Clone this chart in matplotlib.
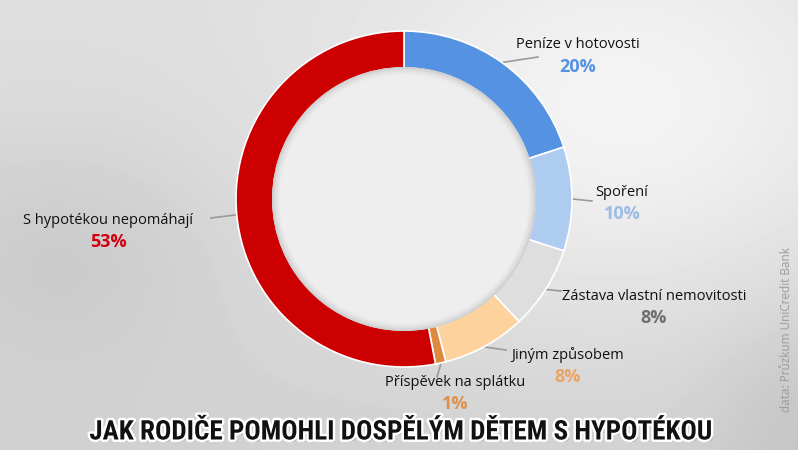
import numpy as np
import matplotlib

matplotlib.use("Agg")
import matplotlib.pyplot as plt
import matplotlib.patheffects as pe
from matplotlib import font_manager

# data
categories = [
    "Peníze v hotovosti",
    "Spoření",
    "Zástava vlastní nemovitosti",
    "Jiným způsobem",
    "Příspěvek na splátku",
    "S hypotékou nepomáhají",
]
shares = [20, 10, 8, 8, 1, 53]
slice_colors = ["#5592e2", "#aecbf0", "#dedede", "#fdd29c", "#dd8a40", "#cc0000"]
value_colors = ["#5592e2", "#9dbbe6", "#6e6e6e", "#eba463", "#e0904a", "#d30010"]
title = "JAK RODIČE POMOHLI DOSPĚLÝM DĚTEM S HYPOTÉKOU"
source = "data: Průzkum UniCredit Bank"

W, H = 798, 450
CX, CY, R = 404, 199, 168
RING = 0.22

# label layout in pixels: (text centre x, text y, leader end x, leader end y)
label_pos = [
    (578, 45, 538, 57),
    (622, 192, 592, 201),
    (654, 296, 561, 291),
    (568, 355, 506, 350),
    (455, 382, 437, 377),
    (108, 220, 211, 218),
]


def narrow_font():
    fonts = font_manager.fontManager.ttflist
    names = {f.name for f in fonts}
    for cand in ["Liberation Sans Narrow", "DejaVu Sans Condensed", "Roboto Condensed", "Open Sans Condensed"]:
        if cand in names:
            return cand, "normal"
    if any(f.name == "DejaVu Sans" and f.stretch == "condensed" for f in fonts):
        return "DejaVu Sans", "condensed"
    return "Roboto", "normal"


fig = plt.figure(figsize=(W / 100, H / 100), dpi=100)
bg = fig.add_axes([0, 0, 1, 1])
bg.set_xlim(0, W)
bg.set_ylim(H, 0)
bg.axis("off")

# blurred grey backdrop
yy, xx = np.mgrid[0:H, 0:W]
img = 0.87 - 0.05 * (yy / H) ** 1.5
img += 0.09 * np.exp(-(((xx - 620) / 260) ** 2 + ((yy - 120) / 200) ** 2))
img -= 0.05 * np.exp(-(((xx - 60) / 160) ** 2 + ((yy - 250) / 120) ** 2))
img -= 0.05 * np.exp(-(((xx - 798) / 90) ** 2 + ((yy - 420) / 120) ** 2))
img = np.clip(img, 0, 1)
bg.imshow(img, cmap="gray", vmin=0, vmax=1, extent=(0, W, H, 0), zorder=0)

pie_ax = fig.add_axes([(CX - R) / W, (H - CY - R) / H, 2 * R / W, 2 * R / H])
wedges, _ = pie_ax.pie(
    shares,
    colors=slice_colors,
    startangle=90,
    counterclock=False,
    radius=1.0,
    wedgeprops=dict(width=RING, edgecolor="white", linewidth=1.2),
)
# hole with a soft grey rim (covers the inner white edge)
r_in = 1 - RING
steps = 10
for k in range(steps):
    g = 0.80 + (0.935 - 0.80) * (k / (steps - 1)) ** 0.7
    pie_ax.add_patch(plt.Circle((0, 0), r_in + 0.006 - k * 0.005, color=(g, g, g), lw=0, zorder=5))
pie_ax.set_xlim(-1, 1)
pie_ax.set_ylim(-1, 1)
pie_ax.axis("off")

font = ["Open Sans", "DejaVu Sans"]
for w, name, val, vcol, (tx, ty, lx, ly) in zip(wedges, categories, shares, value_colors, label_pos):
    theta = np.deg2rad((w.theta1 + w.theta2) / 2)
    sx = CX + (R + 1) * np.cos(theta)
    sy = CY - (R + 1) * np.sin(theta)
    bg.plot([sx, lx], [sy, ly], color="#9a9a9a", lw=1.2, zorder=3)
    bg.text(tx, ty, name, ha="center", va="center", fontsize=10.5, family=font, color="#111111", zorder=4)
    bg.text(tx, ty + 22, f"{val}%", ha="center", va="center", fontsize=13, family=font,
            fontweight="bold", color=vcol, zorder=4)

tfam, tstretch = narrow_font()
bg.text(401, 432, title, ha="center", va="center", fontsize=19.5, fontweight="bold",
        family=[tfam, "DejaVu Sans"], fontstretch=tstretch, color="#111111", zorder=5,
        path_effects=[pe.withSimplePatchShadow(offset=(1.5, -1.5), shadow_rgbFace="#555555", alpha=0.6),
                      pe.Stroke(linewidth=3.5, foreground="white"), pe.Normal()])
bg.text(787, 330, source, rotation=90, ha="center", va="center", fontsize=8.5,
        family=font, color="#9b9b9b", zorder=5)

fig.savefig("out.png", dpi=100)
